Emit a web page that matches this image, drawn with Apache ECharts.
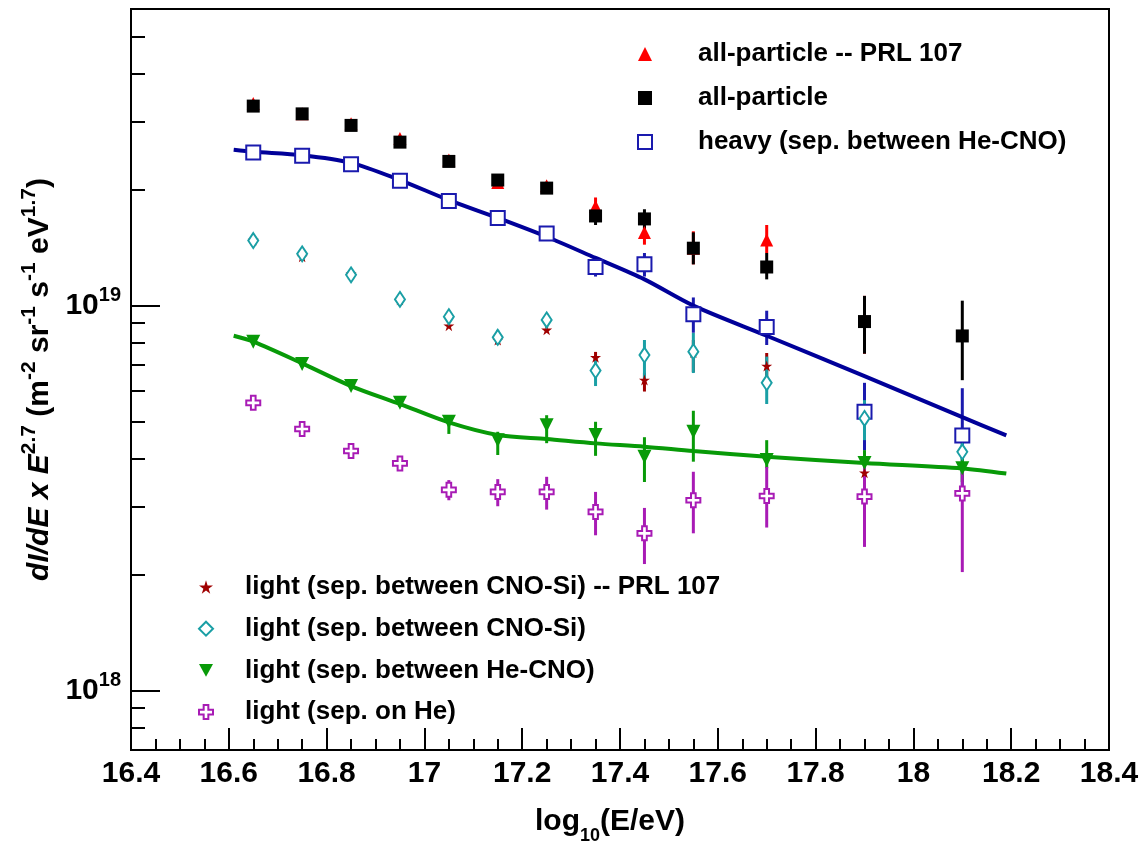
<!DOCTYPE html>
<html>
<head>
<meta charset="utf-8">
<script src="https://cdn.jsdelivr.net/npm/echarts@6/dist/echarts.min.js"></script>
<style>
  html, body { margin: 0; padding: 0; background: #fff; }
  #chart { width: 1145px; height: 849px; }
</style>
</head>
<body>
<div id="chart"></div>
<script>
// log10(E/eV) bin centres
const logE = [16.65, 16.75, 16.85, 16.95, 17.05, 17.15, 17.25, 17.35, 17.45, 17.55, 17.7, 17.9, 18.1];

// dI/dE x E^2.7
const allPrl = [3.35e19, 3.15e19, 2.97e19, 2.72e19, 2.39e19, 2.09e19, 2.05e19, 1.81e19, 1.55e19, 1.41e19, 1.48e19, 0.91e19];
const allPrlLo = [null, null, null, null, null, null, null, 1.67e19, 1.44e19, 1.28e19, 1.37e19, 0.75e19];
const allPrlHi = [null, null, null, null, null, null, null, 1.91e19, 1.61e19, 1.56e19, 1.62e19, 1.06e19];

const allPart = [3.30e19, 3.15e19, 2.94e19, 2.66e19, 2.37e19, 2.12e19, 2.02e19, 1.71e19, 1.68e19, 1.41e19, 1.26e19, 0.909e19, 0.834e19];
const allPartLo = [null, null, null, null, null, null, null, 1.62e19, 1.57e19, 1.28e19, 1.17e19, 0.75e19, 0.64e19];
const allPartHi = [null, null, null, null, null, null, null, 1.80e19, 1.78e19, 1.55e19, 1.37e19, 1.06e19, 1.03e19];

const heavy = [2.50e19, 2.45e19, 2.33e19, 2.11e19, 1.87e19, 1.69e19, 1.54e19, 1.26e19, 1.28e19, 0.95e19, 0.88e19, 0.53e19, 0.46e19];
const heavyLo = [null, null, null, null, null, null, null, 1.19e19, 1.19e19, 0.85e19, 0.79e19, 0.42e19, 0.34e19];
const heavyHi = [null, null, null, null, null, null, null, 1.33e19, 1.37e19, 1.05e19, 0.97e19, 0.63e19, 0.61e19];

const lightPrl = [1.48e19, 1.34e19, 1.21e19, 1.035e19, 0.887e19, 0.814e19, 0.865e19, 0.734e19, 0.641e19, 0.755e19, 0.697e19, 0.368e19];
const lightPrlLo = [null, null, null, null, null, null, null, 0.709e19, 0.598e19, 0.672e19, 0.641e19, 0.352e19];
const lightPrlHi = [null, null, null, null, null, null, null, 0.758e19, 0.669e19, 0.814e19, 0.753e19, 0.385e19];

const lightCnoSi = [1.476e19, 1.363e19, 1.202e19, 1.038e19, 0.936e19, 0.827e19, 0.918e19, 0.678e19, 0.744e19, 0.759e19, 0.630e19, 0.509e19, 0.417e19];
const lightCnoSiLo = [null, null, null, null, 0.907e19, 0.79e19, 0.875e19, 0.618e19, 0.641e19, 0.668e19, 0.555e19, 0.447e19, 0.363e19];
const lightCnoSiHi = [null, null, null, null, 0.963e19, 0.865e19, 0.957e19, 0.731e19, 0.814e19, 0.849e19, 0.737e19, 0.568e19, 0.475e19];

const lightHeCno = [0.806e19, 0.705e19, 0.618e19, 0.559e19, 0.499e19, 0.447e19, 0.489e19, 0.461e19, 0.405e19, 0.470e19, 0.397e19, 0.390e19, 0.378e19];
const lightHeCnoLo = [null, null, null, 0.545e19, 0.464e19, 0.409e19, 0.439e19, 0.407e19, 0.348e19, 0.393e19, 0.378e19, 0.360e19, 0.348e19];
const lightHeCnoHi = [null, null, null, 0.576e19, 0.516e19, 0.470e19, 0.519e19, 0.499e19, 0.455e19, 0.533e19, 0.447e19, 0.421e19, 0.409e19];

const lightHe = [0.559e19, 0.478e19, 0.419e19, 0.389e19, 0.332e19, 0.328e19, 0.328e19, 0.291e19, 0.256e19, 0.312e19, 0.320e19, 0.319e19, 0.325e19];
const lightHeLo = [null, null, null, null, 0.312e19, 0.301e19, 0.295e19, 0.253e19, 0.213e19, 0.256e19, 0.265e19, 0.236e19, 0.203e19];
const lightHeHi = [null, null, null, null, 0.352e19, 0.354e19, 0.359e19, 0.328e19, 0.298e19, 0.370e19, 0.381e19, 0.381e19, 0.381e19];

// fit curves
const fitE = [16.61, 16.65, 16.75, 16.85, 16.95, 17.05, 17.15, 17.25, 17.35, 17.45, 17.55, 17.7, 17.9, 18.1, 18.19];
const heavyFit = [2.54e19, 2.51e19, 2.46e19, 2.35e19, 2.12e19, 1.88e19, 1.69e19, 1.51e19, 1.33e19, 1.17e19, 1.00e19, 0.835e19, 0.656e19, 0.513e19, 0.46e19];
const lightFit = [0.835e19, 0.806e19, 0.708e19, 0.618e19, 0.555e19, 0.497e19, 0.461e19, 0.450e19, 0.4385e19, 0.430e19, 0.419e19, 0.405e19, 0.390e19, 0.3775e19, 0.366e19];

// axis ticks
const yMajor = [1e18, 1e19];
const yMinor = [8e17, 9e17, 2e18, 3e18, 4e18, 5e18, 6e18, 7e18, 8e18, 9e18, 2e19, 3e19, 4e19, 5e19];
const yMin = 7e17, yMax = 5.9e19;

const FONT = '"Liberation Sans", Arial, Helvetica, sans-serif';
const STAR = 'path://M50,0 L61,35 L98,35 L68,57 L79,91 L50,70 L21,91 L32,57 L2,35 L39,35 Z';
const CROSS = 'path://M4,0 L8,0 L8,4 L12,4 L12,8 L8,8 L8,12 L4,12 L4,8 L0,8 L0,4 L4,4 Z';
const TRI_DOWN = 'path://M0,0 L12,0 L6,11 Z';

const C = {
  red: '#ff0000', black: '#000000', blue: '#1a1aae', blueLine: '#000099',
  star: '#a00000', teal: '#1a9fa5', green: '#089a08', magenta: '#a81bb5'
};

function pairs(xs, ys) {
  const out = [];
  ys.forEach((y, i) => { if (y != null) out.push([xs[i], y]); });
  return out;
}

function errorBars(lo, hi, color) {
  const data = [];
  lo.forEach((l, i) => { if (l != null) data.push([logE[i], l, hi[i]]); });
  return {
    type: 'custom',
    yAxisIndex: 0,
    z: 2,
    silent: true,
    encode: { x: 0, y: [1, 2] },
    data: data,
    renderItem: function (params, api) {
      const a = api.coord([api.value(0), api.value(1)]);
      const b = api.coord([api.value(0), api.value(2)]);
      return {
        type: 'line',
        shape: { x1: a[0], y1: a[1], x2: b[0], y2: b[1] },
        style: { stroke: color, lineWidth: 3 }
      };
    }
  };
}

function scatter(name, ys, symbol, size, color, hollow) {
  return {
    name: name,
    type: 'scatter',
    yAxisIndex: 0,
    z: 4,
    symbol: symbol,
    symbolSize: size,
    data: pairs(logE, ys),
    itemStyle: hollow
      ? { color: '#ffffff', borderColor: color, borderWidth: 2, opacity: 1 }
      : { color: color, opacity: 1 }
  };
}

const chart = echarts.init(document.getElementById('chart'), null, { renderer: 'canvas' });

const legendText = { fontSize: 26, fontWeight: 'bold', color: '#000', fontFamily: FONT, lineHeight: 30 };

const option = {
  backgroundColor: '#ffffff',
  animation: false,
  textStyle: { fontFamily: FONT },
  grid: {
    left: 131, right: 36, top: 9, bottom: 99, outerBoundsMode: 'none', containLabel: false,
    show: true, borderColor: '#000', borderWidth: 2, backgroundColor: 'transparent'
  },
  legend: [
    {
      data: ['all-particle -- PRL 107', 'all-particle', 'heavy (sep. between He-CNO)'],
      orient: 'vertical', left: 637, top: 39, padding: 0,
      itemWidth: 14, itemHeight: 14, itemGap: 14,
      selectedMode: false,
      textStyle: Object.assign({ padding: [0, 0, 0, 41] }, legendText)
    },
    {
      data: ['light (sep. between CNO-Si) -- PRL 107', 'light (sep. between CNO-Si)', 'light (sep. between He-CNO)', 'light (sep. on He)'],
      orient: 'vertical', left: 198, top: 572, padding: 0,
      itemWidth: 14, itemHeight: 14, itemGap: 11.7,
      selectedMode: false,
      textStyle: Object.assign({ padding: [0, 0, 0, 27] }, legendText)
    }
  ],
  xAxis: {
    type: 'value', min: 16.4, max: 18.4, interval: 0.2,
    axisLine: { show: true, lineStyle: { color: '#000', width: 2 } },
    axisTick: { show: true, inside: true, length: 22, lineStyle: { color: '#000', width: 2 } },
    minorTick: { show: true, splitNumber: 4, length: 11, lineStyle: { color: '#000', width: 2 } },
    splitLine: { show: false },
    axisLabel: { color: '#000', fontSize: 30, fontWeight: 'bold', fontFamily: FONT, margin: 9 },
    name: 'log{sub|10}(E/eV)',
    nameLocation: 'middle', nameGap: 49,
    nameTextStyle: {
      color: '#000', fontSize: 30, fontWeight: 'bold', fontFamily: FONT, padding: [0, 20, 0, 0],
      rich: { sub: { fontSize: 18, fontWeight: 'bold', fontFamily: FONT, verticalAlign: 'bottom', lineHeight: 46 } }
    }
  },
  yAxis: [
    {
      type: 'log', logBase: 10, min: yMin, max: yMax, position: 'left',
      axisLine: { show: false }, axisTick: { show: false }, axisLabel: { show: false }, splitLine: { show: false }
    },
    {
      type: 'value', min: Math.log10(yMin), max: Math.log10(yMax), position: 'left', offset: 0,
      axisLine: { show: true, lineStyle: { color: '#000', width: 2 } },
      axisTick: { show: true, inside: true, length: 29, lineStyle: { color: '#000', width: 2 }, customValues: yMajor.map(Math.log10) },
      axisLabel: {
        customValues: yMajor.map(Math.log10), margin: 10,
        formatter: function (v) { return '{b|10}{s|' + Math.round(v) + '}'; },
        rich: {
          b: { fontSize: 30, fontWeight: 'bold', color: '#000', fontFamily: FONT, lineHeight: 40 },
          s: { fontSize: 20, fontWeight: 'bold', color: '#000', fontFamily: FONT, verticalAlign: 'top', lineHeight: 40 }
        }
      },
      splitLine: { show: false },
      name: '{i|dI/dE x E}{s|2.7}{n| (m}{s|-2}{n| sr}{s|-1}{n| s}{s|-1}{n| eV}{s|1.7}{n|)}',
      nameLocation: 'middle', nameGap: 68, nameRotate: 90,
      nameTextStyle: {
        color: '#000',
        rich: {
          i: { fontSize: 30, fontWeight: 'bold', fontStyle: 'italic', fontFamily: FONT, lineHeight: 42 },
          n: { fontSize: 30, fontWeight: 'bold', fontFamily: FONT, lineHeight: 42 },
          s: { fontSize: 21, fontWeight: 'bold', fontFamily: FONT, verticalAlign: 'top', lineHeight: 42 }
        }
      }
    },
    {
      type: 'value', min: Math.log10(yMin), max: Math.log10(yMax), position: 'left', offset: 0,
      axisLine: { show: false },
      axisTick: { show: true, inside: true, length: 14, lineStyle: { color: '#000', width: 2 }, customValues: yMinor.map(Math.log10) },
      axisLabel: { show: false },
      splitLine: { show: false }
    }
  ],
  series: [
    errorBars(allPrlLo, allPrlHi, C.red),
    errorBars(allPartLo, allPartHi, C.black),
    errorBars(heavyLo, heavyHi, C.blue),
    errorBars(lightPrlLo, lightPrlHi, C.star),
    errorBars(lightCnoSiLo, lightCnoSiHi, C.teal),
    errorBars(lightHeCnoLo, lightHeCnoHi, C.green),
    errorBars(lightHeLo, lightHeHi, C.magenta),
    {
      type: 'line', yAxisIndex: 0, z: 3, data: pairs(fitE, heavyFit), showSymbol: false, smooth: 0.3,
      lineStyle: { color: C.blueLine, width: 4 }, silent: true
    },
    {
      type: 'line', yAxisIndex: 0, z: 3, data: pairs(fitE, lightFit), showSymbol: false, smooth: 0.3,
      lineStyle: { color: C.green, width: 4 }, silent: true
    },
    scatter('all-particle -- PRL 107', allPrl, 'triangle', 13, C.red, false),
    scatter('all-particle', allPart, 'rect', 13, C.black, false),
    scatter('heavy (sep. between He-CNO)', heavy, 'rect', 14, C.blue, true),
    scatter('light (sep. between CNO-Si) -- PRL 107', lightPrl, STAR, 11, C.star, false),
    scatter('light (sep. between CNO-Si)', lightCnoSi, 'diamond', [10, 15], C.teal, true),
    scatter('light (sep. between He-CNO)', lightHeCno, TRI_DOWN, 14, C.green, false),
    scatter('light (sep. on He)', lightHe, CROSS, 14, C.magenta, true)
  ]
};

chart.setOption(option);
</script>
</body>
</html>
